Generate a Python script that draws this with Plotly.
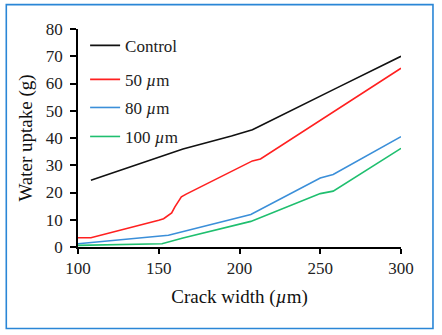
import plotly.graph_objects as go

# Data
control_x = [108, 150, 165, 195, 208, 213, 250, 260, 300]
control_y = [24.5, 33.0, 36.0, 40.7, 43.0, 44.5, 55.2, 58.3, 70.0]

r50_x = [100, 108, 150, 153, 158, 160, 164, 167, 208, 213, 300]
r50_y = [3.4, 3.4, 9.8, 10.4, 12.5, 14.7, 18.4, 19.4, 31.6, 32.3, 65.6]

r80_x = [100, 150, 156, 207, 250, 258, 300]
r80_y = [1.2, 3.9, 4.3, 11.9, 25.3, 26.6, 40.5]

r100_x = [100, 152, 165, 207, 250, 258, 300]
r100_y = [0.6, 1.2, 3.3, 9.4, 19.6, 20.5, 36.2]

names = ["Control", "50 <i>µ</i>m", "80 <i>µ</i>m", "100 <i>µ</i>m"]
colors = ["#111111", "#ff2020", "#3b8fd9", "#1fbf6f"]
series = [(control_x, control_y), (r50_x, r50_y), (r80_x, r80_y), (r100_x, r100_y)]
legend_ids = ["legend", "legend2", "legend3", "legend4"]
legend_y = [0.923, 0.767, 0.638, 0.505]

FONT = "Liberation Serif"

fig = go.Figure()
for (xs, ys), nm, c, lid in zip(series, names, colors, legend_ids):
    fig.add_trace(go.Scatter(x=xs, y=ys, mode="lines", name=nm,
                             line=dict(color=c, width=1.6), legend=lid))

leg_common = dict(x=0.022, xanchor="left", yanchor="middle",
                  bgcolor="rgba(0,0,0,0)", borderwidth=0,
                  font=dict(family=FONT, size=17, color="#222"),
                  itemwidth=30)
layout_legends = {}
for lid, ly in zip(legend_ids, legend_y):
    layout_legends[lid] = dict(leg_common, y=ly)

fig.update_layout(
    width=442, height=335,
    margin=dict(l=78, r=41, t=29, b=88),
    paper_bgcolor="white", plot_bgcolor="white",
    font=dict(family=FONT, size=17, color="#222"),
    showlegend=True,
    xaxis=dict(range=[100, 300], tickvals=[100, 150, 200, 250, 300],
               showgrid=False, zeroline=False, showline=True,
               linecolor="black", linewidth=1.8, ticks="outside",
               ticklen=5, tickwidth=1.5, tickcolor="black",
               tickfont=dict(family=FONT, size=17, color="#222"),
               title=dict(text="Crack width (<i>µ</i>m)",
                          font=dict(family=FONT, size=19, color="#111"),
                          standoff=12)),
    yaxis=dict(range=[0, 80], tickvals=[0, 10, 20, 30, 40, 50, 60, 70, 80],
               showgrid=False, zeroline=False, showline=True,
               linecolor="black", linewidth=1.8, ticks="outside",
               ticklen=6, tickwidth=1.5, tickcolor="black",
               ticklabelstandoff=4,
               tickfont=dict(family=FONT, size=17, color="#222"),
               title=dict(text="Water uptake (g)",
                          font=dict(family=FONT, size=19, color="#111"),
                          standoff=8)),
    **layout_legends,
)

fig.add_shape(type="rect", xref="paper", yref="paper",
              x0=-0.222, x1=1.099, y0=-0.374, y1=1.112,
              line=dict(color="#2a86d6", width=1.6), fillcolor="rgba(0,0,0,0)",
              layer="below")

fig.write_html("out.html")
